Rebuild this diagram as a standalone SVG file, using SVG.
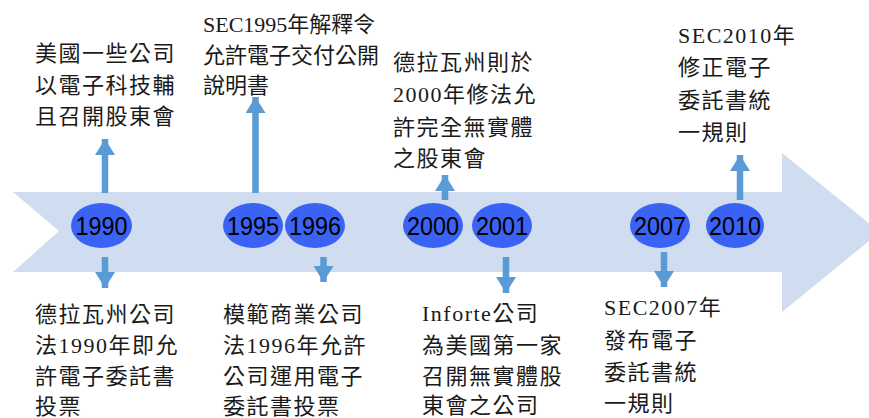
<svg xmlns="http://www.w3.org/2000/svg" width="869" height="418" viewBox="0 0 869 418">
<defs>
<style>
.lbl{font-family:"Liberation Serif","Noto Sans CJK TC",serif;font-size:22px;letter-spacing:1.5px;fill:#1a1a1a}
.tight{letter-spacing:0}
.yr{font-family:"Liberation Sans",Arial,sans-serif;font-size:26px;fill:#000;text-anchor:middle}
.dot{fill:#3A63F5}
.conn{stroke:#5B9BD5;stroke-width:6.5;fill:none;marker-end:url(#ah)}
</style>
<marker id="ah" viewBox="0 0 16 20" refX="16" refY="10" markerWidth="16" markerHeight="20" markerUnits="userSpaceOnUse" orient="auto">
<path d="M0,0 L16,10 L0,20 z" fill="#5B9BD5"/>
</marker>
</defs>
<rect width="869" height="418" fill="#fff"/>
<g id="timeline">
<path d="M13,192 L782,192 L782,153 L880,232 L782,312 L782,272 L13,272 L59,231 z" fill="#D0DCEF"/>
</g>
<g id="connectors">
<line class="conn" x1="105" y1="193" x2="105" y2="139"/>
<line class="conn" x1="255.5" y1="193" x2="255.5" y2="97"/>
<line class="conn" x1="445" y1="200" x2="445" y2="175"/>
<line class="conn" x1="740" y1="200" x2="740" y2="155"/>
<line class="conn" x1="105" y1="257" x2="105" y2="288"/>
<line class="conn" x1="323.5" y1="257" x2="323.5" y2="282"/>
<line class="conn" x1="506" y1="257" x2="506" y2="293"/>
<line class="conn" x1="664" y1="252" x2="664" y2="287"/>
</g>
<g id="n1990"><ellipse class="dot" cx="101.5" cy="225.5" rx="30.5" ry="22.5"/><text class="yr" x="101.5" y="235" textLength="52" lengthAdjust="spacingAndGlyphs">1990</text></g>
<g id="n1995"><ellipse class="dot" cx="253" cy="225.5" rx="30" ry="22.5"/><text class="yr" x="253" y="235" textLength="52" lengthAdjust="spacingAndGlyphs">1995</text></g>
<g id="n1996"><ellipse class="dot" cx="315" cy="225.5" rx="30" ry="22.5"/><text class="yr" x="315" y="235" textLength="52" lengthAdjust="spacingAndGlyphs">1996</text></g>
<g id="n2000"><ellipse class="dot" cx="433" cy="225.5" rx="30" ry="22.5"/><text class="yr" x="433" y="235" textLength="52" lengthAdjust="spacingAndGlyphs">2000</text></g>
<g id="n2001"><ellipse class="dot" cx="502" cy="225.5" rx="30" ry="22.5"/><text class="yr" x="502" y="235" textLength="52" lengthAdjust="spacingAndGlyphs">2001</text></g>
<g id="n2007"><ellipse class="dot" cx="660" cy="225.5" rx="30" ry="22.5"/><text class="yr" x="660" y="235" textLength="52" lengthAdjust="spacingAndGlyphs">2007</text></g>
<g id="n2010"><ellipse class="dot" cx="735" cy="225.5" rx="29" ry="22.5"/><text class="yr" x="735" y="235" textLength="52" lengthAdjust="spacingAndGlyphs">2010</text></g>
<g id="t1990up"><text class="lbl"><tspan x="35" y="61">美國一些公司</tspan><tspan x="35" y="92.5">以電子科技輔</tspan><tspan x="35" y="124">且召開股東會</tspan></text></g>
<g id="t1995up"><text class="lbl tight"><tspan x="203" y="32">SEC1995年解釋令</tspan><tspan x="203" y="62.5">允許電子交付公開</tspan><tspan x="203" y="93">說明書</tspan></text></g>
<g id="t2000up"><text class="lbl"><tspan x="393" y="70">德拉瓦州則於</tspan><tspan x="393" y="102">2000年修法允</tspan><tspan x="393" y="134.5">許完全無實體</tspan><tspan x="393" y="165.5">之股東會</tspan></text></g>
<g id="t2010up"><text class="lbl"><tspan x="678" y="43">SEC2010年</tspan><tspan x="678" y="75">修正電子</tspan><tspan x="678" y="108">委託書統</tspan><tspan x="678" y="140">一規則</tspan></text></g>
<g id="t1990dn"><text class="lbl"><tspan x="35" y="322">德拉瓦州公司</tspan><tspan x="35" y="353">法1990年即允</tspan><tspan x="35" y="384">許電子委託書</tspan><tspan x="35" y="414">投票</tspan></text></g>
<g id="t1996dn"><text class="lbl"><tspan x="223" y="322">模範商業公司</tspan><tspan x="223" y="353">法1996年允許</tspan><tspan x="223" y="384">公司運用電子</tspan><tspan x="223" y="414">委託書投票</tspan></text></g>
<g id="t2001dn"><text class="lbl"><tspan x="422" y="321">Inforte公司</tspan><tspan x="422" y="353">為美國第一家</tspan><tspan x="422" y="384">召開無實體股</tspan><tspan x="422" y="413">東會之公司</tspan></text></g>
<g id="t2007dn"><text class="lbl"><tspan x="604" y="315">SEC2007年</tspan><tspan x="604" y="348">發布電子</tspan><tspan x="604" y="380">委託書統</tspan><tspan x="604" y="411">一規則</tspan></text></g>
</svg>
